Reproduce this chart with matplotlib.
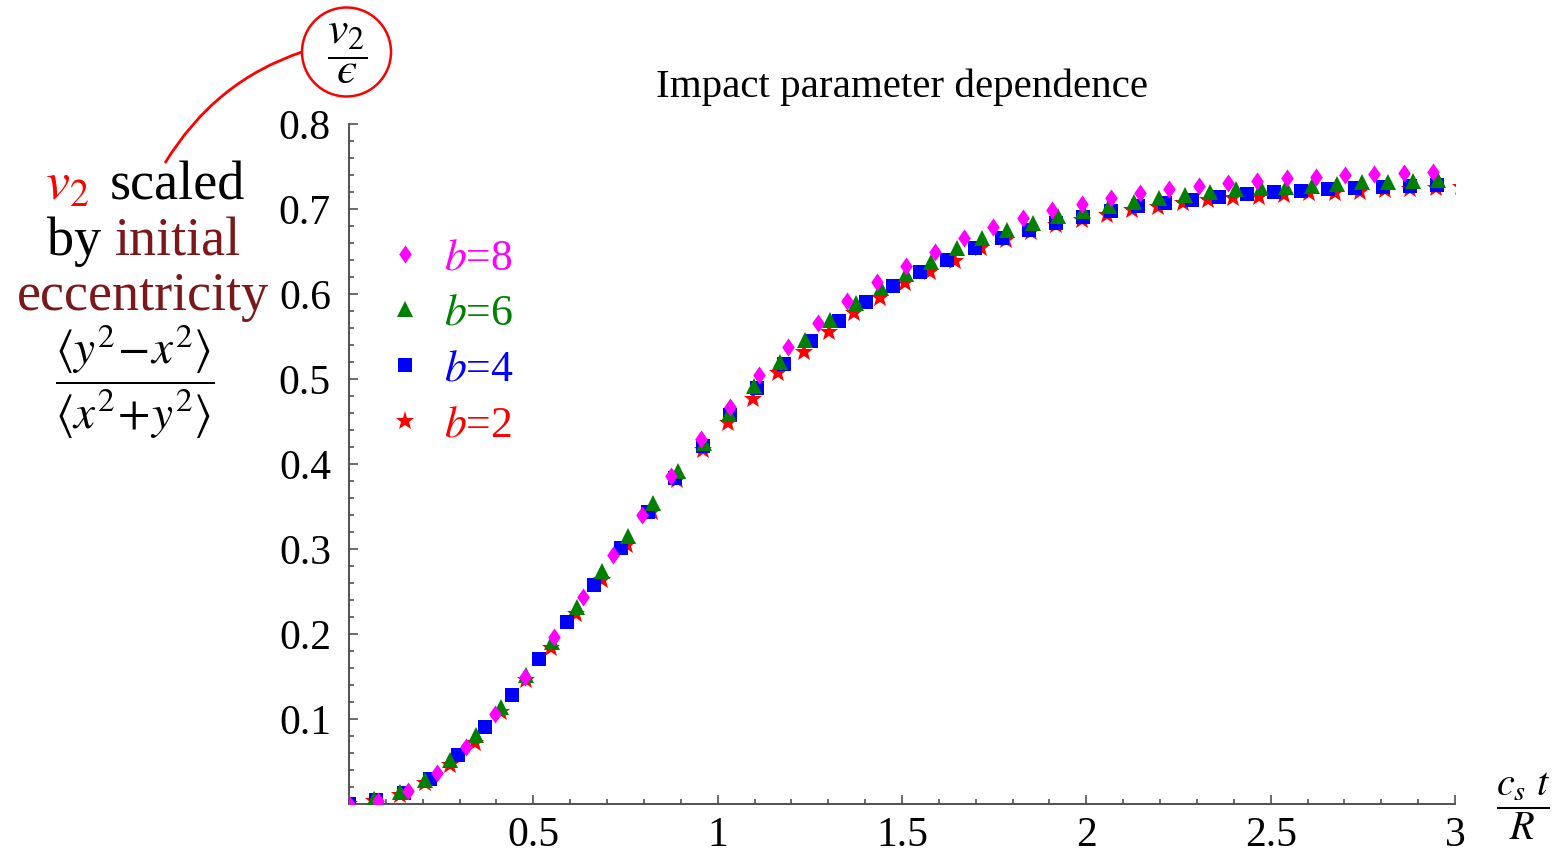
import matplotlib
matplotlib.use("Agg")
import matplotlib.pyplot as plt
from matplotlib.patches import Ellipse, PathPatch
from matplotlib.path import Path
from matplotlib.ticker import MultipleLocator

plt.rcParams['font.family'] = ['Liberation Serif', 'DejaVu Serif']
plt.rcParams['mathtext.fontset'] = 'stix'

# ---------------- data ----------------
x_b2 = [0.000, 0.069, 0.137, 0.206, 0.274, 0.343, 0.411, 0.480, 0.548, 0.617,
        0.686, 0.754, 0.823, 0.891, 0.960, 1.028, 1.097, 1.165, 1.234, 1.303,
        1.371, 1.440, 1.508, 1.577, 1.645, 1.714, 1.782, 1.851, 1.919, 1.988,
        2.057, 2.125, 2.194, 2.262, 2.331, 2.399, 2.468, 2.536, 2.605, 2.674,
        2.742, 2.811, 2.879, 2.948, 3.016]
y_b2 = [0.000, 0.004, 0.011, 0.025, 0.046, 0.072, 0.108, 0.146, 0.183, 0.223,
        0.263, 0.305, 0.344, 0.381, 0.416, 0.448, 0.477, 0.507, 0.532, 0.555,
        0.578, 0.595, 0.613, 0.626, 0.639, 0.654, 0.664, 0.673, 0.681, 0.687,
        0.693, 0.699, 0.702, 0.707, 0.711, 0.713, 0.714, 0.716, 0.719, 0.719,
        0.720, 0.722, 0.723, 0.725, 0.726]

x_b4 = [0.000, 0.074, 0.148, 0.221, 0.295, 0.369, 0.443, 0.516, 0.590, 0.664,
        0.738, 0.812, 0.885, 0.959, 1.033, 1.107, 1.180, 1.254, 1.328, 1.402,
        1.476, 1.549, 1.623, 1.697, 1.771, 1.844, 1.918, 1.992, 2.066, 2.140,
        2.213, 2.287, 2.361, 2.435, 2.508, 2.582, 2.656, 2.730, 2.804, 2.877,
        2.951]
y_b4 = [0.000, 0.005, 0.013, 0.030, 0.058, 0.091, 0.128, 0.171, 0.214, 0.258,
        0.301, 0.344, 0.384, 0.421, 0.458, 0.489, 0.518, 0.545, 0.568, 0.591,
        0.609, 0.626, 0.640, 0.654, 0.666, 0.675, 0.684, 0.691, 0.698, 0.703,
        0.707, 0.711, 0.714, 0.718, 0.720, 0.721, 0.723, 0.725, 0.726, 0.727,
        0.728]

x_b6 = [0.000, 0.069, 0.137, 0.206, 0.275, 0.344, 0.412, 0.481, 0.550, 0.618,
        0.687, 0.756, 0.824, 0.893, 0.962, 1.031, 1.099, 1.168, 1.237, 1.305,
        1.374, 1.443, 1.511, 1.580, 1.649, 1.718, 1.786, 1.855, 1.924, 1.992,
        2.061, 2.130, 2.198, 2.267, 2.336, 2.405, 2.473, 2.542, 2.611, 2.679,
        2.748, 2.817, 2.885, 2.954]
y_b6 = [0.000, 0.006, 0.014, 0.028, 0.052, 0.081, 0.114, 0.152, 0.191, 0.232,
        0.274, 0.315, 0.354, 0.392, 0.425, 0.459, 0.492, 0.520, 0.546, 0.569,
        0.589, 0.607, 0.624, 0.638, 0.654, 0.666, 0.675, 0.684, 0.692, 0.698,
        0.704, 0.708, 0.713, 0.716, 0.720, 0.723, 0.725, 0.726, 0.727, 0.730,
        0.732, 0.732, 0.733, 0.734]

x_b8 = [0.000, 0.079, 0.159, 0.238, 0.318, 0.397, 0.477, 0.556, 0.636, 0.715,
        0.795, 0.874, 0.954, 1.033, 1.113, 1.192, 1.272, 1.351, 1.431, 1.510,
        1.589, 1.669, 1.748, 1.828, 1.907, 1.987, 2.066, 2.146, 2.225, 2.305,
        2.384, 2.464, 2.543, 2.623, 2.702, 2.781, 2.861, 2.940]
y_b8 = [0.000, 0.004, 0.015, 0.036, 0.067, 0.106, 0.149, 0.196, 0.244, 0.293,
        0.340, 0.386, 0.429, 0.467, 0.505, 0.538, 0.566, 0.592, 0.614, 0.633,
        0.650, 0.666, 0.679, 0.689, 0.699, 0.706, 0.713, 0.719, 0.723, 0.727,
        0.731, 0.733, 0.736, 0.738, 0.740, 0.741, 0.742, 0.744]

legend_labels = [r'$b$=8', r'$b$=6', r'$b$=4', r'$b$=2']
x_ticks = [0.5, 1.0, 1.5, 2.0, 2.5, 3.0]
x_ticklabels = ['0.5', '1', '1.5', '2', '2.5', '3']
y_ticks = [0.1, 0.2, 0.3, 0.4, 0.5, 0.6, 0.7, 0.8]
y_ticklabels = ['0.1', '0.2', '0.3', '0.4', '0.5', '0.6', '0.7', '0.8']

# ---------------- figure ----------------
W, H = 1556, 858
fig = plt.figure(figsize=(W / 100, H / 100), dpi=100)

def fx(x):
    return x / W

def fy(y):
    return 1 - y / H

left, right, bottom, top = 349, 1455, 804, 124
ax = fig.add_axes([fx(left), fy(bottom), (right - left) / W, (bottom - top) / H])

MAG, GRN, BLU, RED = '#FF00FF', '#008000', '#0000FF', '#FF0000'
diamond = [(0, 1), (0.7, 0), (0, -1), (-0.7, 0), (0, 1)]

s2, = ax.plot(x_b2, y_b2, ls='none', marker='*', ms=14, color=RED, mew=0, zorder=3)
s4, = ax.plot(x_b4, y_b4, ls='none', marker='s', ms=10, color=BLU, mew=0, zorder=4)
s6, = ax.plot(x_b6, y_b6, ls='none', marker='^', ms=11, color=GRN, mew=0, zorder=5)
s8, = ax.plot(x_b8, y_b8, ls='none', marker=diamond, ms=13, color=MAG, mew=0, zorder=6)

ax.set_xlim(0, 3)
ax.set_ylim(0, 0.8)
for sp in ['top', 'right']:
    ax.spines[sp].set_visible(False)
axis_col = '#444444'
for sp in ['left', 'bottom']:
    ax.spines[sp].set_color(axis_col)
    ax.spines[sp].set_linewidth(1.3)

ax.set_xticks(x_ticks)
ax.set_xticklabels(x_ticklabels)
ax.set_yticks(y_ticks)
ax.set_yticklabels(y_ticklabels)
ax.xaxis.set_minor_locator(MultipleLocator(0.1))
ax.yaxis.set_minor_locator(MultipleLocator(0.02))
ax.tick_params(which='both', direction='in', color=axis_col, width=1.1,
               labelsize=30, labelcolor='black')
ax.tick_params(which='major', length=6.5)
ax.tick_params(which='minor', length=3.8)
ax.tick_params(axis='x', which='major', pad=9)
ax.tick_params(axis='y', which='major', pad=13)

leg = ax.legend([s8, s6, s4, s2], legend_labels,
                labelcolor=[MAG, GRN, BLU, RED],
                frameon=False, fontsize=31.5, handlelength=0.95,
                handletextpad=0.42, labelspacing=0.36, borderpad=0,
                borderaxespad=0, loc='upper left',
                bbox_to_anchor=(fx(384), fy(238)),
                bbox_transform=fig.transFigure)

# title
fig.text(fx(902), fy(97), 'Impact parameter dependence', fontsize=29.5,
         ha='center', va='baseline')

# x-axis label
fig.text(fx(1523), fy(806), r'$\dfrac{c_s\ t}{R}$', fontsize=29,
         ha='center', va='center')

# left description
fs = 39
fig.text(fx(45), fy(200), r'$v_2$', fontsize=fs, color=RED, ha='left', va='baseline')
fig.text(fx(110), fy(200), 'scaled', fontsize=fs, color='black', ha='left', va='baseline')
fig.text(fx(47), fy(255), 'by', fontsize=fs, color='black', ha='left', va='baseline')
DRED = '#7A181C'
fig.text(fx(115), fy(255), 'initial', fontsize=fs, color=DRED, ha='left', va='baseline')
fig.text(fx(143), fy(310), 'eccentricity', fontsize=fs, color=DRED, ha='center', va='baseline')
fig.text(fx(135), fy(382), r'$\dfrac{\langle y^2\!-\!x^2\rangle}{\langle x^2\!+\!y^2\rangle}$',
         fontsize=34, color='black', ha='center', va='center')

# circled v2/eps
ell = Ellipse((fx(346.5), fy(52)), 89 / W, 89 / H, transform=fig.transFigure,
              fill=False, ec=RED, lw=1.8)
fig.patches.append(ell)
fig.text(fx(347), fy(54), '$\\dfrac{v_2}{\u03f5}$', fontsize=33,
         ha='center', va='center')

# red connector curve
verts = [(fx(165), fy(163)), (fx(215), fy(81)), (fx(302), fy(52))]
path = Path(verts, [Path.MOVETO, Path.CURVE3, Path.CURVE3])
fig.patches.append(PathPatch(path, transform=fig.transFigure, fill=False,
                             ec=RED, lw=2.0))

fig.savefig('out.png', dpi=100)
